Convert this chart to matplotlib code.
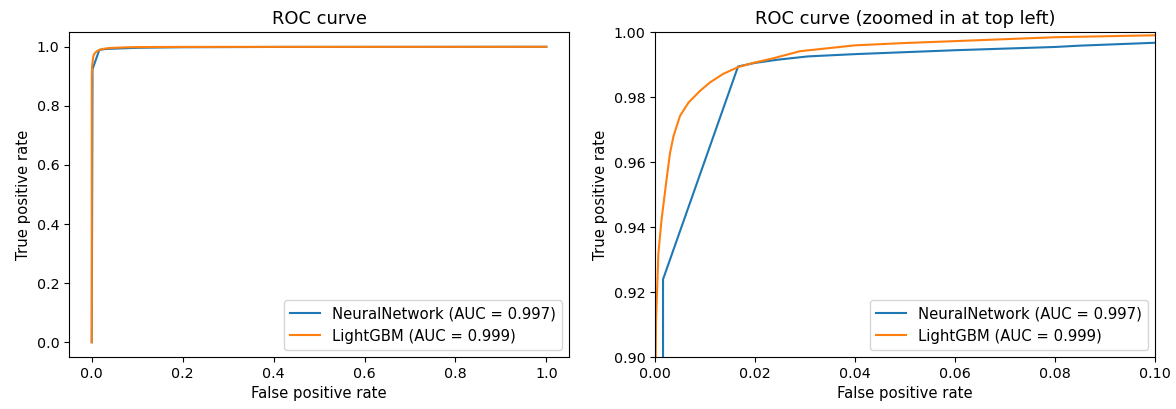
import numpy as np
import matplotlib
matplotlib.use("Agg")
import matplotlib.pyplot as plt

# ROC points (false positive rate, true positive rate)
nn_fpr = [0.0, 0.0016, 0.0016, 0.0166, 0.020, 0.0246, 0.0306, 0.040, 0.060, 0.080, 0.0848, 0.100, 0.200, 0.400, 1.0]
nn_tpr = [0.0, 0.880, 0.9239, 0.9894, 0.9905, 0.9915, 0.9925, 0.9932, 0.9944, 0.9954, 0.9958, 0.9967, 0.9985, 0.9995, 1.0]

gbm_fpr = [0.0, 0.0, 0.0002, 0.00067, 0.0013, 0.0023, 0.0030, 0.0037, 0.0050, 0.0067, 0.0090, 0.0110,
           0.0136, 0.0166, 0.0196, 0.0236, 0.0290, 0.040, 0.0497, 0.060, 0.080, 0.100, 0.200, 1.0]
gbm_tpr = [0.0, 0.880, 0.911, 0.9319, 0.9422, 0.9546, 0.9628, 0.9680, 0.9742, 0.9783, 0.9819, 0.9845,
           0.9871, 0.9892, 0.9905, 0.9919, 0.9941, 0.9959, 0.9966, 0.9972, 0.9984, 0.9990, 0.9997, 1.0]

nn_label = "NeuralNetwork (AUC = 0.997)"
gbm_label = "LightGBM (AUC = 0.999)"

plt.rcParams["xtick.labelsize"] = 10.3
plt.rcParams["ytick.labelsize"] = 10.3
plt.rcParams["axes.labelsize"] = 10.7
plt.rcParams["legend.fontsize"] = 10.7

fig = plt.figure(figsize=(11.76, 4.09), dpi=100)
ax1 = fig.add_axes([0.0587, 0.1271, 0.4252, 0.7946])
ax2 = fig.add_axes([0.5570, 0.1271, 0.4252, 0.7946])

# full curve
ax1.plot(nn_fpr, nn_tpr, label=nn_label)
ax1.plot(gbm_fpr, gbm_tpr, label=gbm_label)
ax1.set_xlabel("False positive rate")
ax1.set_ylabel("True positive rate")
ax1.set_title("ROC curve", fontsize=12.9)
ax1.legend(loc="lower right")

# zoomed in at top left
ax2.plot(nn_fpr, nn_tpr, label=nn_label)
ax2.plot(gbm_fpr, gbm_tpr, label=gbm_label)
ax2.set_xlim(0, 0.1)
ax2.set_ylim(0.9, 1.0)
ax2.set_xlabel("False positive rate")
ax2.set_ylabel("True positive rate")
ax2.set_title("ROC curve (zoomed in at top left)", fontsize=12.9)
ax2.legend(loc="lower right")

fig.savefig("out.png", dpi=100)
